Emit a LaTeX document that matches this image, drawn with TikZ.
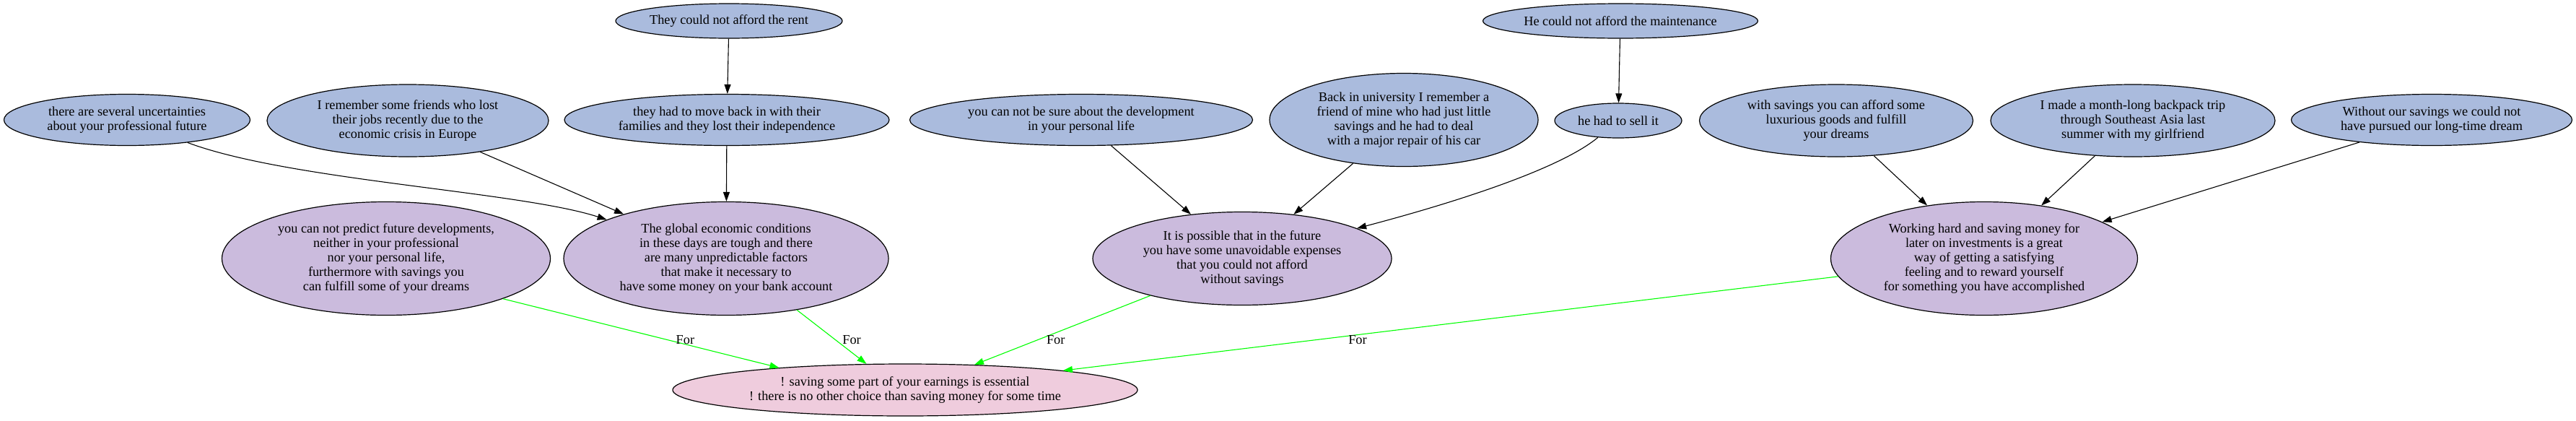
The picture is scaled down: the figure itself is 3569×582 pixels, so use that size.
\documentclass[tikz,border=0pt]{standalone}
\usepackage{fontspec}
\setmainfont{Liberation Serif}
\usepackage{tikz}
\usetikzlibrary{shapes,arrows.meta}

\definecolor{argblue}{HTML}{AABBDD}
\definecolor{argpurple}{HTML}{CBBBDD}
\definecolor{argpink}{HTML}{EFCCDD}
\definecolor{forgreen}{HTML}{00FF00}

\begin{document}
\begin{tikzpicture}[x=1pt,y=-1pt,
  arg/.style={ellipse,draw,line width=1.2pt,inner sep=0pt,align=center,
    font=\fontsize{18.3}{20}\selectfont},
  premise/.style={arg,fill=argblue},
  reason/.style={arg,fill=argpurple},
  claim/.style={arg,fill=argpink},
  supports/.style={-{Triangle[length=13pt,width=9pt]},line width=1.1pt},
  pro/.style={supports,draw=forgreen},
  forlabel/.style={font=\fontsize{18.3}{20}\selectfont,inner sep=1pt}]
\useasboundingbox (0,0) rectangle (3569,582);

\node[premise,minimum width=314pt,minimum height=48pt] (rent) at (1010,29) {They could not afford the rent};
\node[premise,minimum width=381pt,minimum height=48pt] (maint) at (2245,29) {He could not afford the maintenance};

\node[premise,minimum width=341pt,minimum height=71pt] (uncert) at (176,166)
  {there are several uncertainties\\about your professional future};
\node[premise,minimum width=390pt,minimum height=100pt] (friends) at (565,167)
  {I remember some friends who lost\\their jobs recently due to the\\economic crisis in Europe};
\node[premise,minimum width=450pt,minimum height=71pt] (move) at (1007,166)
  {they had to move back in with their\\families and they lost their independence};
\node[premise,minimum width=475pt,minimum height=71pt] (personal) at (1498,166)
  {you can not be sure about the development\\in your personal life};
\node[premise,minimum width=372pt,minimum height=129pt] (univ) at (1945,166)
  {Back in university I remember a\\friend of mine who had just little\\savings and he had to deal\\with a major repair of his car};
\node[premise,minimum width=176pt,minimum height=48pt] (sell) at (2242,167) {he had to sell it};
\node[premise,minimum width=379pt,minimum height=100pt] (luxury) at (2544,167)
  {with savings you can afford some\\luxurious goods and fulfill\\your dreams};
\node[premise,minimum width=394pt,minimum height=100pt] (trip) at (2955,167)
  {I made a month-long backpack trip\\through Southeast Asia last\\summer with my girlfriend};
\node[premise,minimum width=389pt,minimum height=71pt] (dream) at (3369,166)
  {Without our savings we could not\\have pursued our long-time dream};

\node[reason,minimum width=455pt,minimum height=157pt] (predict) at (535,358)
  {you can not predict future developments,\\neither in your professional\\nor your personal life,\\furthermore with savings you\\can fulfill some of your dreams};
\node[reason,minimum width=450pt,minimum height=157pt] (global) at (1006,358)
  {The global economic conditions\\in these days are tough and there\\are many unpredictable factors\\that make it necessary to\\have some money on your bank account};
\node[reason,minimum width=414pt,minimum height=129pt] (possible) at (1721,358)
  {It is possible that in the future\\you have some unavoidable expenses\\that you could not afford\\without savings};
\node[reason,minimum width=425pt,minimum height=157pt] (working) at (2749,358)
  {Working hard and saving money for\\later on investments is a great\\way of getting a satisfying\\feeling and to reward yourself\\for something you have accomplished};

\node[claim,minimum width=644pt,minimum height=72pt] (concl) at (1254,540)
  {! saving some part of your earnings is essential\\! there is no other choice than saving money for some time};

\foreach \a/\b in {rent/move,maint/sell,friends/global,move/global,personal/possible,
  univ/possible,luxury/working,trip/working,dream/working}
  \draw[supports] (\a) -- (\b);

\draw[supports] (uncert) .. controls (400,250) and (720,265) .. (global);
\draw[supports] (sell) .. controls (2160,235) and (2010,282) .. (possible);

\draw[pro] (predict.-19) -- node[forlabel,pos=0.66,yshift=6pt] {For} (concl.170);
\draw[pro] (global.-36) -- node[forlabel,pos=0.56,xshift=22pt] {For} (concl.146);
\draw[pro] (possible.202) -- node[forlabel,pos=0.64,xshift=25pt] {For} (concl.20);
\draw[pro] (working.187) -- node[forlabel,pos=0.62,yshift=-7pt] {For} (concl.7);

\end{tikzpicture}
\end{document}
